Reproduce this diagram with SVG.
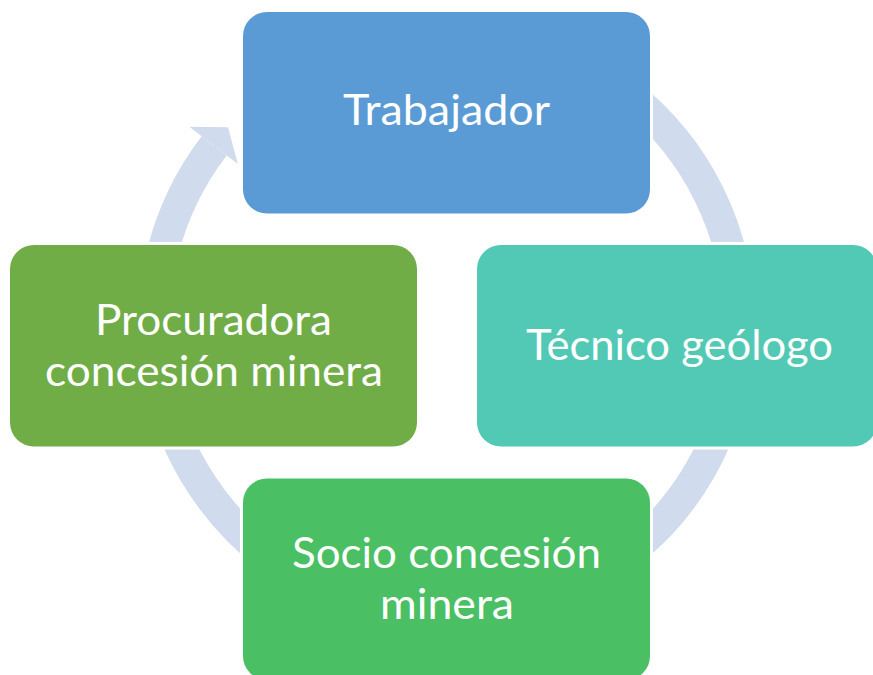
<svg xmlns="http://www.w3.org/2000/svg" width="873" height="675" viewBox="0 0 873 675">
<style>
.box{stroke:#FFFFFF;stroke-width:6;paint-order:stroke}
.lbl{font-family:Lato,"Liberation Sans",sans-serif;font-size:42px;fill:#FFFFFF;text-anchor:middle}
.ring{fill:none;stroke:#D0DBEE;stroke-width:31.5}
</style>
<rect width="873" height="675" fill="#FFFFFF"/>
<g id="connectors">
<path class="ring" d="M522.3,41.2 A292.75,292.75 0 1 1 214.2,145.8"/>
<polygon points="189.4,126.8 228,127.3 237.8,163.9" fill="#D0DBEE"/>
</g>
<g id="node-trabajador">
<rect class="box" x="243" y="12" width="407" height="201.5" rx="24" fill="#5B9BD5"/>
<text class="lbl" x="446.5" y="125" textLength="207" lengthAdjust="spacingAndGlyphs">Trabajador</text>
</g>
<g id="node-tecnico">
<rect class="box" x="477" y="245" width="400" height="201.5" rx="24" fill="#52C9B5"/>
<text class="lbl" x="679.5" y="360" textLength="307" lengthAdjust="spacingAndGlyphs">Técnico geólogo</text>
</g>
<g id="node-procuradora">
<rect class="box" x="10" y="245" width="407" height="201.5" rx="24" fill="#70AD47"/>
<text class="lbl" x="213.5" y="335" textLength="237" lengthAdjust="spacingAndGlyphs">Procuradora</text>
<text class="lbl" x="214" y="386" textLength="338" lengthAdjust="spacingAndGlyphs">concesión minera</text>
</g>
<g id="node-socio">
<rect class="box" x="243" y="478.5" width="407" height="201.5" rx="24" fill="#4ABF64"/>
<text class="lbl" x="446.5" y="568" textLength="309" lengthAdjust="spacingAndGlyphs">Socio concesión</text>
<text class="lbl" x="447" y="619" textLength="134" lengthAdjust="spacingAndGlyphs">minera</text>
</g>
</svg>
